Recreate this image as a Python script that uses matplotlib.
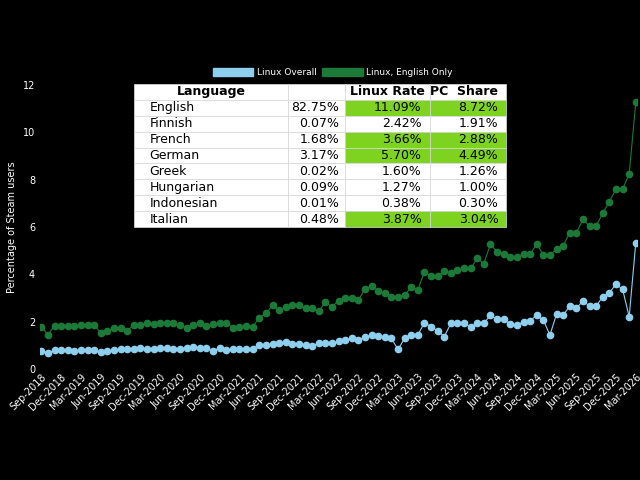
import matplotlib
matplotlib.use("Agg")
import matplotlib.pyplot as plt
import matplotlib.patches as mpatches
import pandas as pd
import numpy as np

months = pd.date_range("2018-09-01", "2026-03-01", freq="MS")

english_only = [1.79,1.46,1.82,1.82,1.82,1.82,1.85,1.85,1.86,1.53,1.61,1.75,1.75,1.63,1.85,1.85,
                1.93,1.89,1.93,1.93,1.93,1.86,1.75,1.86,1.93,1.82,1.89,1.93,1.93,1.75,1.79,1.82,
                1.79,2.17,2.35,2.69,2.49,2.61,2.70,2.69,2.56,2.56,2.45,2.83,
                2.63,2.89,2.99,2.99,2.92,3.38,3.51,3.31,3.20,3.06,3.06,3.13,3.45,3.34,4.11,3.93,
                3.93,4.14,4.07,4.18,4.25,4.25,4.68,4.46,5.28,4.93,4.86,4.75,4.75,4.86,4.86,5.28,
                4.82,4.82,5.07,5.21,5.76,5.76,6.32,6.04,6.04,6.60,7.07,7.60,7.60,8.24,11.27]

overall = [0.76,0.69,0.80,0.80,0.80,0.76,0.80,0.80,0.80,0.73,0.77,0.80,0.83,0.83,0.83,0.90,
           0.83,0.87,0.90,0.90,0.87,0.87,0.90,0.94,0.90,0.90,0.76,0.90,0.80,0.83,0.83,0.87,
           0.87,1.01,1.01,1.04,1.11,1.15,1.08,1.04,1.01,0.97,1.11,1.11,
           1.11,1.18,1.25,1.30,1.25,1.34,1.44,1.39,1.37,1.30,0.83,1.30,1.44,1.44,1.96,1.79,
           1.62,1.37,1.93,1.96,1.96,1.76,1.93,1.93,2.28,2.10,2.10,1.90,1.86,2.00,2.04,2.28,
           2.07,1.44,2.32,2.28,2.66,2.56,2.89,2.66,2.66,3.06,3.22,3.59,3.37,2.21,5.34]

col_labels = ["Language", "", "Linux Rate", "PC  Share"]
languages = ["English", "Finnish", "French", "German", "Greek", "Hungarian", "Indonesian", "Italian"]
steam_share = ["82.75%", "0.07%", "1.68%", "3.17%", "0.02%", "0.09%", "0.01%", "0.48%"]
linux_rate = ["11.09%", "2.42%", "3.66%", "5.70%", "1.60%", "1.27%", "0.38%", "3.87%"]
pc_share = ["8.72%", "1.91%", "2.88%", "4.49%", "1.26%", "1.00%", "0.30%", "3.04%"]
highlight = [True, False, True, True, False, False, False, True]

BLUE = "#8ecfee"
GREEN = "#1c7a38"
HL = "#7ed321"

x = np.arange(len(months))
fig = plt.figure(figsize=(6.4, 4.8), dpi=100, facecolor="black")
ax = fig.add_axes([0.0625, 0.231, 0.933, 0.592], facecolor="black")
ax.plot(x, english_only, "-o", color=GREEN, ms=4.5, lw=0.8)
ax.plot(x, overall, "-o", color=BLUE, ms=4.5, lw=0.8)
ax.set_ylim(0, 12)
ax.set_xlim(-0.2, len(x) - 0.8)
ax.set_yticks(range(0, 13, 2))
ticks = x[::3]
ax.set_xticks(ticks)
ax.set_xticklabels([months[i].strftime("%b-%Y") for i in ticks], rotation=45,
                   ha="right", rotation_mode="anchor", fontsize=7, color="white")
ax.tick_params(axis="y", colors="white", labelsize=7, length=0)
ax.tick_params(axis="x", length=0, pad=2)
for s in ax.spines.values():
    s.set_visible(False)
ax.set_ylabel("Percentage of Steam users", color="white", fontsize=7)

handles = [mpatches.Patch(color=BLUE, label="Linux Overall"),
           mpatches.Patch(color=GREEN, label="Linux, English Only")]
fig.legend(handles=handles, loc="center", bbox_to_anchor=(0.52, 0.849), ncol=2,
           frameon=False, fontsize=6.5, labelcolor="white", handlelength=4.5,
           handleheight=1.0, columnspacing=0.6, handletextpad=0.4)

cell_text = [[languages[i], steam_share[i], linux_rate[i], pc_share[i]] for i in range(len(languages))]
tab = fig.add_axes([134/640, 1 - 227/480, (506-134)/640, (227-84)/480])
tab.axis("off")
t = tab.table(cellText=cell_text, colLabels=col_labels, bbox=[0, 0, 1, 1],
              colWidths=[154, 57, 85, 76])
t.auto_set_font_size(False)
for (r, c), cell in t.get_celld().items():
    cell.set_edgecolor("#dddddd")
    cell.set_linewidth(0.5)
    cell.set_text_props(fontsize=9)
    if r == 0:
        cell.set_text_props(fontweight="bold")
        cell.get_text().set_horizontalalignment("right" if c == 3 else "center")
    else:
        cell.get_text().set_horizontalalignment("left" if c == 0 else "right")
        if c >= 2 and highlight[r - 1]:
            cell.set_facecolor(HL)
fig.savefig("out.png", dpi=100, facecolor="black")
